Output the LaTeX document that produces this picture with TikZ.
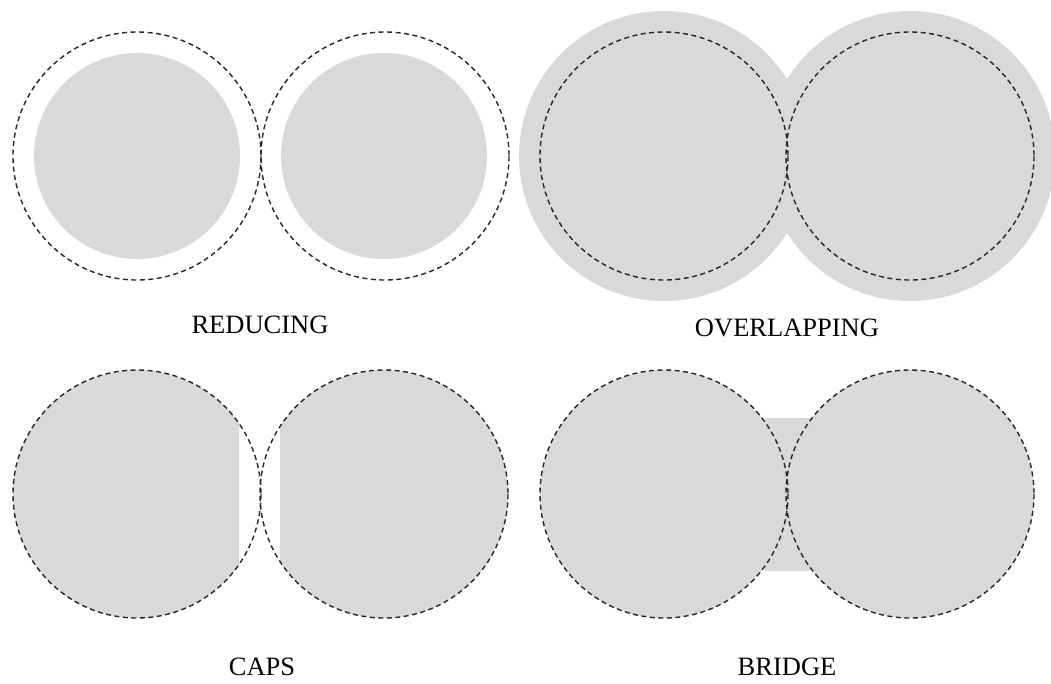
\documentclass[tikz,border=0pt]{standalone}
\usepackage{fontspec}
\setmainfont{Liberation Serif}
\definecolor{fillgray}{HTML}{D9D9D9}
\begin{document}
\begin{tikzpicture}[x=1pt,y=-1pt,
  dashcirc/.style={draw=black!85,line width=1.4pt,dash pattern=on 5pt off 3.5pt},
  lbl/.style={font=\fontsize{26.5}{30}\selectfont,inner sep=0pt,anchor=base}]
\useasboundingbox (0,0) rectangle (1051,683);
\clip (0,0) rectangle (1051,683);
% ---------- REDUCING ----------
\fill[fillgray] (137,156) circle[radius=103];
\fill[fillgray] (384,156) circle[radius=103];
\draw[dashcirc] (137,156) circle[radius=124];
\draw[dashcirc] (385,156) circle[radius=124];
\node[lbl] (reducing) at (260,333) {REDUCING};
% ---------- OVERLAPPING ----------
\fill[fillgray] (664,156) circle[radius=145];
\fill[fillgray] (910,156) circle[radius=145];
\draw[dashcirc] (664,156) circle[radius=124];
\draw[dashcirc] (910,156) circle[radius=124];
\node[lbl] (overlapping) at (787,336) {OVERLAPPING};
% ---------- CAPS ----------
\begin{scope}
  \clip (0,350) rectangle (239,683);
  \fill[fillgray] (137,494) circle[radius=124];
\end{scope}
\begin{scope}
  \clip (280,350) rectangle (530,683);
  \fill[fillgray] (384,494) circle[radius=124];
\end{scope}
\draw[dashcirc] (137,494) circle[radius=124];
\draw[dashcirc] (384,494) circle[radius=124];
\node[lbl] (caps) at (262,675) {CAPS};
% ---------- BRIDGE ----------
\fill[fillgray] (765,418) rectangle (810,571);
\fill[fillgray] (664,494) circle[radius=124];
\fill[fillgray] (910,494) circle[radius=124];
\draw[dashcirc] (664,494) circle[radius=124];
\draw[dashcirc] (910,494) circle[radius=124];
\node[lbl] (bridge) at (787,675) {BRIDGE};
\end{tikzpicture}
\end{document}
